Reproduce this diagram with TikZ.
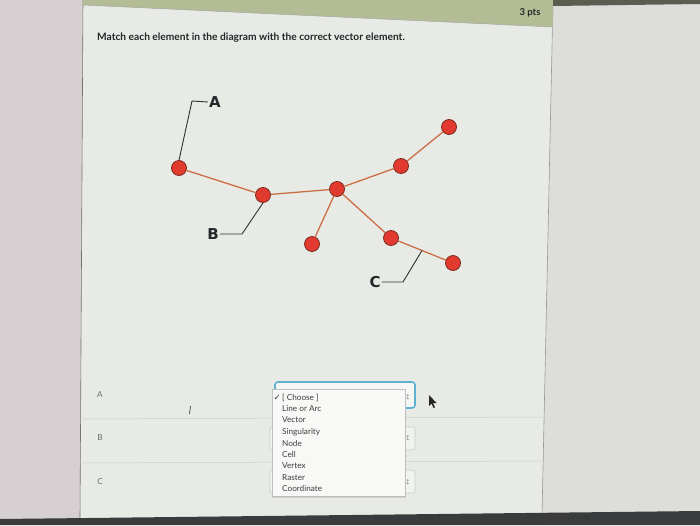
\documentclass[tikz,border=0pt]{standalone}
\usepackage{fontspec}
\setmainfont{Lato}
\newfontfamily\dejavu{DejaVu Sans}
\usetikzlibrary{shadows,calc}
\definecolor{leftbg}{HTML}{D6D0D3}
\definecolor{rightbg}{HTML}{DDDDDA}
\definecolor{panelbg}{HTML}{E8EBE5}
\definecolor{olivebg}{HTML}{B3BC95}
\definecolor{topdark}{HTML}{5A5E50}
\definecolor{botdark}{HTML}{3A3B3C}
\definecolor{nodered}{HTML}{E23A2E}
\definecolor{nodeedge}{HTML}{7A2A1E}
\definecolor{edgecol}{HTML}{CC6E45}
\definecolor{leadcol}{HTML}{2E3230}
\definecolor{labcol}{HTML}{24282A}
\definecolor{itemcol}{HTML}{3A3E3C}
\definecolor{selblue}{HTML}{5FB2CF}
\definecolor{graytext}{HTML}{6A6E6A}
\definecolor{lineg}{HTML}{C9CCC6}
\begin{document}
\begin{tikzpicture}[x=1pt,y=-1pt,
  vert/.style={circle,minimum size=15pt,inner sep=0pt,fill=nodered,draw=nodeedge,line width=0.8pt},
  edgeline/.style={draw=edgecol,line width=1.3pt},
  leader/.style={draw=leadcol,line width=0.9pt},
  lab/.style={font=\dejavu\fontsize{15}{15}\selectfont\bfseries,text=labcol,inner sep=1pt},
  rowlab/.style={font=\fontsize{8.2}{8}\selectfont,text=graytext,inner sep=0pt},
  item/.style={font=\fontsize{8.2}{8}\selectfont,text=itemcol,anchor=west,inner sep=0pt},
  selbox/.style={draw=lineg,fill=panelbg!60!white,rounded corners=2pt,line width=0.6pt},
  arr/.style={font=\fontsize{5}{5}\selectfont,text=black!70,inner sep=0pt}]
\useasboundingbox (0,0) rectangle (700,525);
% backgrounds
\fill[leftbg] (0,0) rectangle (700,525);
\fill[rightbg] (553,0) -- (700,0) -- (700,525) -- (542,525) -- cycle;
\fill[panelbg] (83,0) -- (553,0) -- (542,515) -- (80,519) -- cycle;
\draw[black!55,line width=0.6pt] (83,0) -- (80,519);
\draw[black!40,line width=0.6pt] (553,0) -- (542,515);
\fill[olivebg] (83,0) -- (553,0) -- (553,27) -- (83,5) -- cycle;
\draw[black!35,line width=0.5pt] (83,5) -- (553,27);
\fill[topdark] (553,0) -- (700,0) -- (700,4) -- (553,6) -- cycle;
\fill[botdark] (0,519) -- (700,511) -- (700,525) -- (0,525) -- cycle;
% header texts
\node[font=\fontsize{9.5}{9}\selectfont\bfseries,text=labcol] (pts) at (530,13) {3 pts};
\node[anchor=west,font=\fontsize{10.2}{10}\selectfont\bfseries,text=labcol,inner sep=0pt] (title) at (97,38)
  {Match each element in the diagram with the correct vector element.};
% diagram
\node[vert] (n1) at (179,168) {};
\node[vert] (n2) at (263,195) {};
\node[vert] (n3) at (337,189) {};
\node[vert] (n4) at (401,166) {};
\node[vert] (n5) at (449,127) {};
\node[vert] (n6) at (312,244) {};
\node[vert] (n7) at (391,238) {};
\node[vert] (n8) at (453,263) {};
\draw[edgeline] (n1) -- (n2) (n2) -- (n3) (n3) -- (n4) (n4) -- (n5)
  (n3) -- (n6) (n3) -- (n7) (n7) -- (n8);
\node[lab] (A) at (215,102) {A};
\node[lab] (B) at (213,234) {B};
\node[lab] (C) at (375,282) {C};
\coordinate (cA) at (192,101);
\coordinate (cB) at (242,234);
\coordinate (cC) at (403,282);
\coordinate (pC) at ($(n7)!0.5!(n8)$);
\draw[leader] (A.west) -- (cA) -- (n1.north);
\draw[leader] (B.east) -- (cB) -- (n2.south);
\draw[leader] (C.east) -- (cC) -- (pC);
% lower rows
\draw[lineg,line width=0.5pt] (80,419) -- (544,417);
\draw[lineg,line width=0.5pt] (80,463) -- (543,461);
\node[rowlab] (ra) at (100,395) {A};
\node[rowlab] (rb) at (100,438) {B};
\node[rowlab] (rc) at (100,482) {C};
\draw[black!75,line width=0.7pt] (190.5,406) -- (189.5,414);
% select boxes
\draw[selbox] (270,427) rectangle (415,450);
\draw[selbox] (270,470) rectangle (415,493);
\draw[draw=selblue,line width=1.6pt,rounded corners=3pt,fill=white!60!panelbg] (275,382) rectangle (415,408);
\node[arr] (s1) at (408,397) {$\updownarrow$};
\node[arr] (s2) at (408,438) {$\updownarrow$};
\node[arr] (s3) at (408,482) {$\updownarrow$};
% dropdown list
\draw[draw=black!25,fill=white!70!panelbg,line width=0.5pt,drop shadow={opacity=0.25,shadow xshift=1pt,shadow yshift=-1.5pt}] (272,389) rectangle (405,496);
\node[anchor=east,font=\dejavu\fontsize{8.5}{8}\selectfont,text=itemcol,inner sep=0pt] (chk) at (281,398) {✓};
\node[item] (i0) at (282,398) {[ Choose ]};
\node[item] (i1) at (282,409) {Line or Arc};
\node[item] (i2) at (282,420) {Vector};
\node[item] (i3) at (282,432) {Singularity};
\node[item] (i4) at (282,443.5) {Node};
\node[item] (i5) at (282,455) {Cell};
\node[item] (i6) at (282,466) {Vertex};
\node[item] (i7) at (282,477.5) {Raster};
\node[item] (i8) at (282,489) {Coordinate};
% mouse pointer
\fill[black!85] (429,395) -- (429,406) -- (431.5,403.5) -- (433.5,408) -- (435,407.3) -- (433,403) -- (436.5,403) -- cycle;
\end{tikzpicture}
\end{document}
